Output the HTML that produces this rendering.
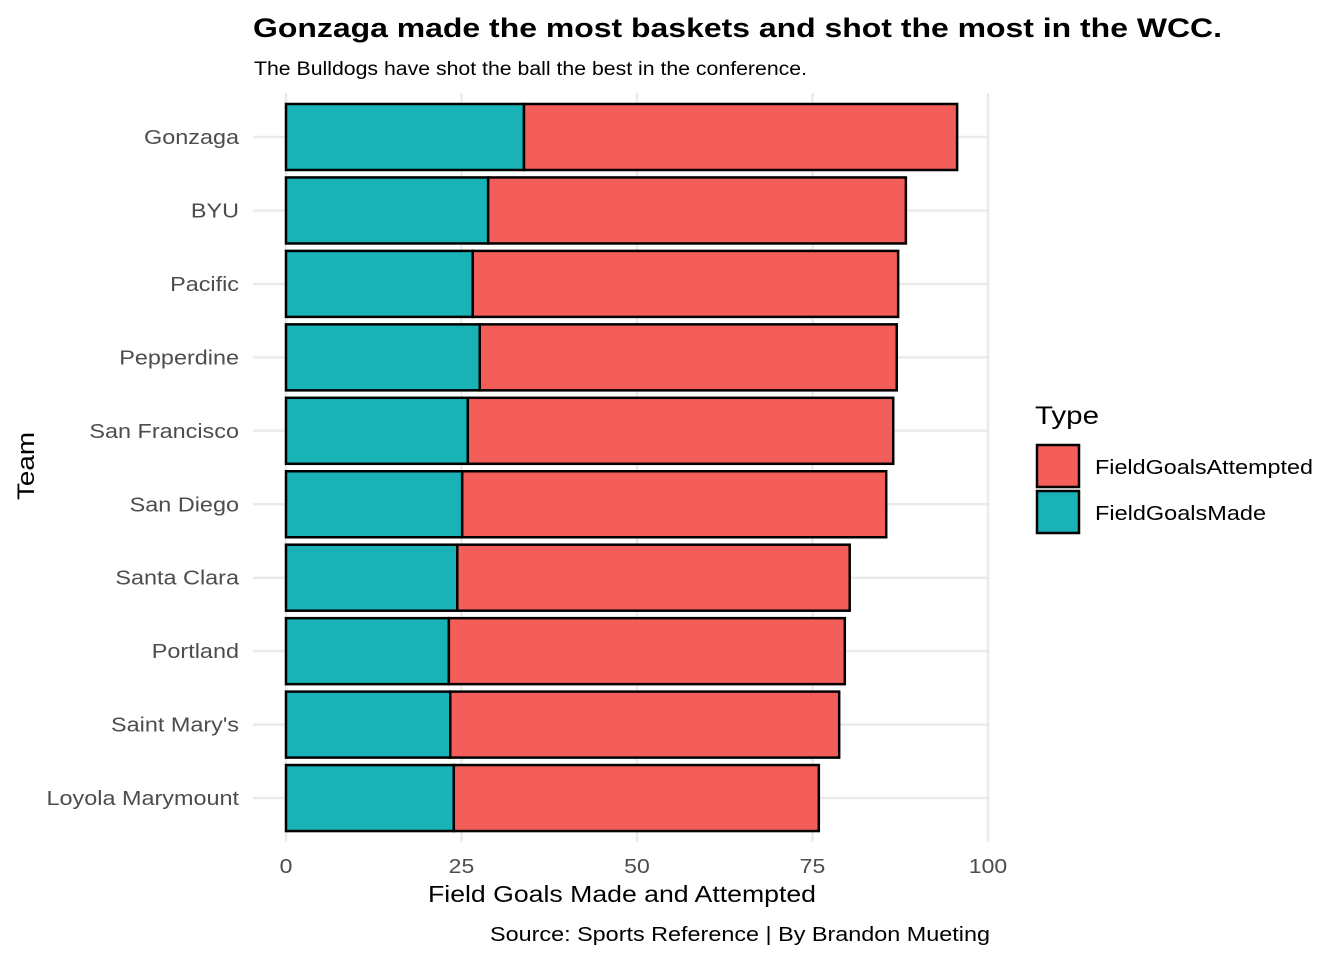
<!DOCTYPE html>
<html><head><meta charset="utf-8"><style>
body{margin:0;background:#fff;}
svg text{font-family:"Liberation Sans",Arial,sans-serif;}
</style></head><body>
<svg id="chart" width="1344" height="960" xmlns="http://www.w3.org/2000/svg">
<text x="253" y="37" font-size="27" font-weight="bold" fill="#000" textLength="969" lengthAdjust="spacingAndGlyphs">Gonzaga made the most baskets and shot the most in the WCC.</text>
<text x="254" y="75" font-size="19" fill="#000" textLength="553" lengthAdjust="spacingAndGlyphs">The Bulldogs have shot the ball the best in the conference.</text>
<g id="grid"></g><g id="bars"></g><g id="axes"></g>
<text x="428" y="902" font-size="23" fill="#000" textLength="388" lengthAdjust="spacingAndGlyphs">Field Goals Made and Attempted</text>
<text transform="translate(34,500) rotate(-90)" font-size="24" fill="#000" textLength="68" lengthAdjust="spacingAndGlyphs">Team</text>
<text x="490" y="941" font-size="20" fill="#000" textLength="500" lengthAdjust="spacingAndGlyphs">Source: Sports Reference | By Brandon Mueting</text>
<g>
<text x="1035" y="424" font-size="25" fill="#000" textLength="64" lengthAdjust="spacingAndGlyphs">Type</text>
<rect x="1037" y="445" width="42" height="42" fill="#F35E5A" stroke="#000" stroke-width="2.5"/>
<text x="1095" y="474" font-size="20" fill="#000" textLength="218" lengthAdjust="spacingAndGlyphs">FieldGoalsAttempted</text>
<rect x="1037" y="491" width="42" height="42" fill="#19B2B6" stroke="#000" stroke-width="2.5"/>
<text x="1095" y="520" font-size="20" fill="#000" textLength="171" lengthAdjust="spacingAndGlyphs">FieldGoalsMade</text>
</g>
</svg>
<script>
const teams=["Gonzaga","BYU","Pacific","Pepperdine","San Francisco","San Diego","Santa Clara","Portland","Saint Mary's","Loyola Marymount"];
const made=[33.9,28.8,26.6,27.6,25.9,25.1,24.4,23.2,23.4,23.9];
const attempted=[61.7,59.5,60.6,59.4,60.6,60.4,55.9,56.4,55.4,52.0];
const xTicks=[0,25,50,75,100];
const NS="http://www.w3.org/2000/svg";
const x=v=>286+v*7.02;
const y=i=>137+i*73.45;
const bh=66;
function mk(tag,attrs,parent){const e=document.createElementNS(NS,tag);for(const k in attrs)e.setAttribute(k,attrs[k]);document.getElementById(parent).appendChild(e);return e;}
xTicks.forEach(t=>{
 const l=mk('line',{x1:x(t),x2:x(t),y1:93,y2:842,stroke:'#ebebeb','stroke-width':2.5},'grid');
 
 
 const tx=mk('text',{x:x(t),y:873,'font-size':20,'text-anchor':'middle',fill:'#4d4d4d',class:'w','data-k':1.15},'axes');
 tx.textContent=t;
 
 
});
teams.forEach((tm,i)=>{
 const g=mk('line',{x1:253,x2:990,y1:y(i),y2:y(i),stroke:'#ebebeb','stroke-width':2.5},'grid');
 
 
 const lb=mk('text',{x:239,y:y(i)+7,'font-size':20,'text-anchor':'end',fill:'#4d4d4d',class:'w','data-k':1.17},'axes');
 lb.textContent=tm;
 
 
 const m=mk('rect',{x:x(0),y:y(i)-bh/2,width:x(made[i])-x(0),height:bh,fill:'#19B2B6',stroke:'#000','stroke-width':2.5},'bars');
 
 
 const a=mk('rect',{x:x(made[i]),y:y(i)-bh/2,width:x(made[i]+attempted[i])-x(made[i]),height:bh,fill:'#F35E5A',stroke:'#000','stroke-width':2.5},'bars');
 
 
});
document.querySelectorAll('text.w').forEach(t=>{
 const k=parseFloat(t.getAttribute('data-k'));
 const w=t.getComputedTextLength();
 t.setAttribute('textLength',(w*k).toFixed(1));
 t.setAttribute('lengthAdjust','spacingAndGlyphs');
});
</script>
</body></html>
